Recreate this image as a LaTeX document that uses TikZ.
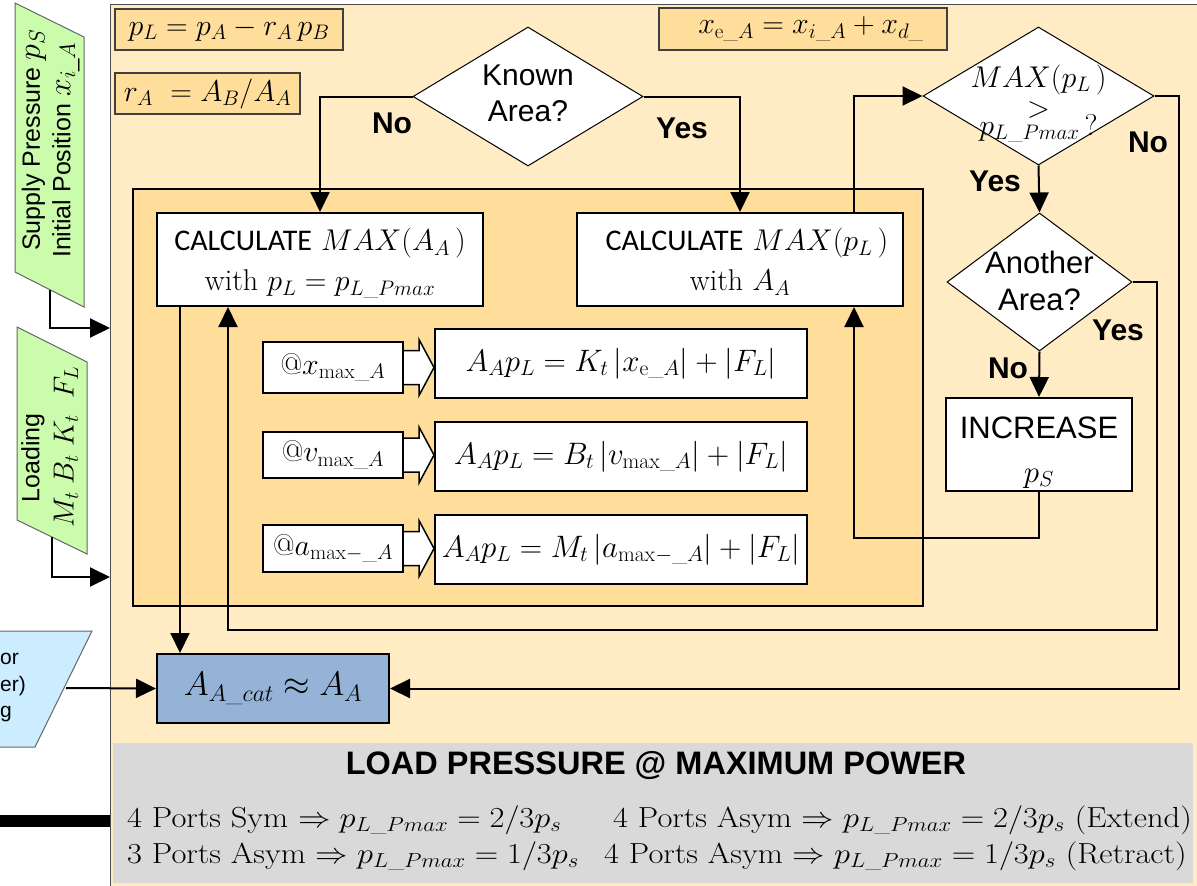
\RequirePackage{fix-cm}
\documentclass[tikz,border=0pt]{standalone}
\usepackage{amsmath}
\usepackage{fontspec}
\usetikzlibrary{arrows.meta,shapes.geometric,calc}
\newfontfamily\arialf{Liberation Sans}
\newfontfamily\calib{Carlito}
\newcommand\fsz[2]{\fontsize{#1}{#2}\selectfont}
\newcommand\us{\text{\_}}
\newcommand\ctrtxt[2][0pt]{\smash{\makebox[0pt]{\raisebox{\dimexpr-0.25em-#1\relax}{#2}}}}
\newcommand\wide[1]{\scalebox{1.12}[1]{#1}}
\newcommand\blockarr[2]{\draw[barrow] ($(#1.east)+(0,-17)$) -- ++(15,0) -- ++(0,-11) -- (#2.west |- #1.east) -- ($(#1.east)+(15,28)$) -- ++(0,-11) -- ($(#1.east)+(0,17)$);}
\definecolor{dotor}{RGB}{255,200,90}
\colorlet{outerfill}{dotor!35!white}
\colorlet{innerfill}{dotor!60!white}
\definecolor{grn}{RGB}{150,250,90}
\colorlet{grnfill}{grn!50!white}
\definecolor{ltblue}{RGB}{204,236,255}
\definecolor{catblue}{RGB}{149,179,215}
\definecolor{grayfill}{RGB}{217,217,217}
\begin{document}
\begin{tikzpicture}[x=1pt,y=-1pt,
  arr/.style={line width=2pt,-{Triangle[length=20pt,width=19pt]}},
  wbox/.style={draw,line width=2pt,fill=white,inner sep=0pt,align=center},
  fbox/.style={draw=black!75,line width=1.3pt,fill=innerfill,inner sep=0pt,font=\fsz{30}{36}},
  decide/.style={diamond,draw,line width=1pt,fill=white,inner sep=0pt},
  lbl/.style={font=\arialf\bfseries\fsz{30}{36}},
  barrow/.style={draw,line width=1.5pt,fill=white,line join=miter},
  para/.style={draw=black!60,line width=1pt}]
\useasboundingbox (0,0) rectangle (1197,886);
\clip (0,0) rectangle (1197,886);
\fill[white] (0,0) rectangle (1197,886);

% main area
\node[draw=black!70,line width=1.2pt,fill=outerfill,minimum width=1100pt,minimum height=890pt,anchor=north west,inner sep=0pt] (main) at (110,4) {};
\node[draw,line width=2pt,fill=innerfill,minimum width=790pt,minimum height=417pt,inner sep=0pt] (inner) at (528,397.5) {};
\node[fill=grayfill,minimum width=1080pt,minimum height=140pt,inner sep=0pt] (gray) at (653,813) {};

% top formula boxes
\node[fbox,minimum width=228pt,minimum height=41pt] (eq1) at (229,29.5) {$p_L = p_A - r_A\, p_B$};
\node[fbox,minimum width=185pt,minimum height=41pt] (eq2) at (207.5,93.5) {$r_A\ = A_B/A_A$};
\node[fbox,minimum width=288pt,minimum height=42pt] (eq3) at (803,29) {\hspace*{16pt}$x_{\mathrm{e}\us A} = x_{i\us A} + x_{d\us}$};

% decisions
\node[decide,minimum width=230pt,minimum height=139pt,font=\arialf\fsz{30}{36}] (known) at (528,96.5) {\ctrtxt{\begin{tabular}{@{}c@{}}Known\\Area?\end{tabular}}};
\node[decide,minimum width=231pt,minimum height=138pt,font=\fsz{30}{36}] (maxd) at (1038.5,96) {\ctrtxt[8pt]{\begin{tabular}{@{}c@{}}$MAX(p_L\,)$\\[-6pt]$>$\\[-18pt]$p_{L\us Pmax}$\,?\end{tabular}}};
\node[decide,minimum width=185pt,minimum height=138pt,font=\arialf\fsz{31}{37}] (another) at (1039.5,282) {\ctrtxt[3pt]{\begin{tabular}{@{}c@{}}Another\\Area?\end{tabular}}};

% process boxes
\node[wbox,minimum width=326pt,minimum height=93pt,font=\fsz{30}{40}] (calc1) at (320,259.5) {\ctrtxt[3pt]{\begin{tabular}{@{}c@{}}{\calib CALCULATE} $MAX(A_A\,)$\\ with $p_L = p_{L\us Pmax}$\end{tabular}}};
\node[wbox,minimum width=326pt,minimum height=93pt,font=\fsz{30}{40}] (calc2) at (740,259.5) {\ctrtxt[3pt]{\begin{tabular}{@{}c@{}}\hspace*{14pt}{\calib CALCULATE} $MAX(p_L\,)$\\ with $A_A$\end{tabular}}};
\node[wbox,minimum width=186pt,minimum height=93pt,font=\arialf\fsz{31}{44}] (incr) at (1039,444.5) {\ctrtxt[7pt]{\begin{tabular}{@{}c@{}}INCREASE\\$p_S$\end{tabular}}};

\node[wbox,minimum width=140pt,minimum height=51pt,font=\fsz{30}{36}] (sx1) at (333,367.5) {@$x_{\mathrm{max}\us A}$};
\node[wbox,minimum width=140pt,minimum height=46pt,font=\fsz{30}{36}] (sx2) at (333,455) {@$v_{\mathrm{max}\us A}$};
\node[wbox,minimum width=140pt,minimum height=47pt,font=\fsz{30}{36}] (sx3) at (333,548.5) {@$a_{\mathrm{max}-\us A}$};
\node[wbox,minimum width=372pt,minimum height=69pt,font=\fsz{31}{36}] (f1) at (621,363.5) {$A_A p_L = K_t\left|x_{\mathrm{e}\us A}\right| + |F_L|$};
\node[wbox,minimum width=372pt,minimum height=69pt,font=\fsz{31}{36}] (f2) at (621,456.5) {$A_A p_L = B_t\left|v_{\mathrm{max}\us A}\right| + |F_L|$};
\node[wbox,minimum width=372pt,minimum height=69pt,font=\fsz{31}{36}] (f3) at (621,549.5) {$A_A p_L = M_t\left|a_{\mathrm{max}-\us A}\right| + |F_L|$};
\blockarr{sx1}{f1}
\blockarr{sx2}{f2}
\blockarr{sx3}{f3}

\node[draw,line width=2pt,fill=catblue,minimum width=232pt,minimum height=69pt,inner sep=0pt,font=\fsz{34}{40}] (acat) at (273,688.5) {$A_{A\us cat} \approx A_A$};

% labels
\node[lbl] (no1) at (392,123) {No};
\node[lbl] (yes1) at (682,128) {Yes};
\node[lbl] (no2) at (1148,142) {No};
\node[lbl] (yes2) at (995,181) {Yes};
\node[lbl] (yes3) at (1118,330) {Yes};
\node[lbl] (no3) at (1008,368) {No};

% connectors
\draw[arr] (known.west) -| (calc1.north);
\draw[arr] (known.east) -| (calc2.north);
\draw[arr] ([xshift=-50pt]calc2.north east) |- (maxd.west);
\draw[arr] (maxd.south) -- (another.north);
\draw[arr] (another.south) -- (incr.north);
\draw[arr] (maxd.east) -- ++(24,0) |- (acat.east);
\coordinate (ret) at (228,630);
\draw[arr] (another.east) -- ++(24,0) |- (ret) -- (ret |- calc1.south);
\draw[arr] (incr.south) -- ++(0,46) -| ([xshift=-50pt]calc2.south east);
\draw[arr] ([xshift=-140pt]calc1.south) -- ([xshift=-140pt]calc1.south |- acat.north);

% left inputs
\fill[grnfill] (15,3) -- (84,37) -- (84,307) -- (15,272) -- cycle;
\draw[para] (15,3) -- (84,37) -- (84,307) -- (15,272) -- cycle;
\node[rotate=90,font=\arialf\fsz{25}{30},inner sep=0pt] (sup) at (34,140) {Supply Pressure {\fsz{32}{40}$p_S$}};
\node[rotate=90,font=\arialf\fsz{25}{30},inner sep=0pt] (ini) at (66,150) {Initial Position {\fsz{32}{40}$x_{i\us A}$}};
\coordinate (p1out) at (50,290);
\coordinate (in1) at (110,328);
\draw[arr] (p1out) |- (in1);

\fill[grnfill] (17,327) -- (87,362) -- (87,554) -- (17,520) -- cycle;
\draw[para] (17,327) -- (87,362) -- (87,554) -- (17,520) -- cycle;
\node[rotate=90,font=\arialf\fsz{25}{30},inner sep=0pt] (load) at (33,458) {Loading};
\node[rotate=90,font=\fsz{29}{36},inner sep=0pt] (mbk) at (66,447) {$M_t\;B_t\;K_t\;\;F_L$};
\coordinate (p2out) at (52,537);
\coordinate (in2) at (110,577);
\draw[arr] (p2out) |- (in2);

\fill[ltblue] (-60,631) -- (92,631) -- (35,747) -- (-60,747) -- cycle;
\draw[para] (-60,631) -- (92,631) -- (35,747) -- (-60,747) -- cycle;
\node[anchor=west,align=left,inner sep=0pt,font=\arialf\fsz{21}{26.5}] (sizing) at (0,688) {or\\er)\\g};
\coordinate (sizeout) at (66,688);
\draw[arr] (sizeout) -- (acat.west);

\draw[line width=12pt] (0,821) -- (110,821);

% bottom text
\node[font=\arialf\bfseries\fsz{32.5}{36}] (title) at (656,766) {LOAD PRESSURE @ MAXIMUM POWER};
\node[anchor=base west,inner sep=0pt,font=\fsz{29}{34}] (b1) at (127,827) {\wide{4 Ports Sym $\Rightarrow p_{L\us Pmax} = 2/3p_s$}};
\node[anchor=base west,inner sep=0pt,font=\fsz{29}{34}] (b2) at (613,827) {\wide{4 Ports Asym $\Rightarrow p_{L\us Pmax} = 2/3p_s$ (Extend)}};
\node[anchor=base west,inner sep=0pt,font=\fsz{29}{34}] (b3) at (127,863) {\wide{3 Ports Asym $\Rightarrow p_{L\us Pmax} = 1/3p_s$}};
\node[anchor=base west,inner sep=0pt,font=\fsz{29}{34}] (b4) at (604,863) {\wide{4 Ports Asym $\Rightarrow p_{L\us Pmax} = 1/3p_s$ (Retract)}};
\end{tikzpicture}
\end{document}
